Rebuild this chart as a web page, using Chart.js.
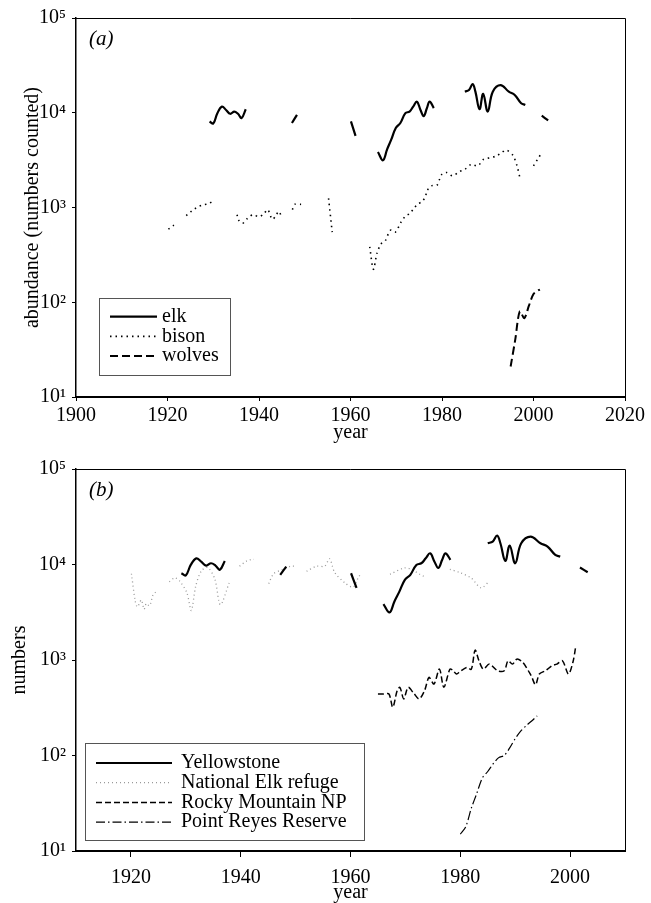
<!DOCTYPE html>
<html>
<head>
<meta charset="utf-8">
<script src="https://cdn.jsdelivr.net/npm/chart.js@4/dist/chart.umd.min.js"></script>
<style>
  html, body { margin: 0; padding: 0; background: #fff; }
  #wrap { position: relative; width: 651px; height: 903px; }
  .panel { position: absolute; left: 0; width: 651px; }
  #panelA { top: 0; height: 451px; }
  #panelB { top: 451px; height: 452px; }
</style>
</head>
<body>
<div id="wrap">
  <div class="panel" id="panelA"><canvas id="chartA"></canvas></div>
  <div class="panel" id="panelB"><canvas id="chartB"></canvas></div>
</div>
<script>
// ---- data (null = break in the record) ----
// Yellowstone elk (used in both panels)
const elkYears = [1929.2, 1930.0, 1930.9, 1931.9, 1932.8, 1933.7, 1934.6, 1935.4, 1936.2, 1937.1, 1940,
  1947.2, 1948.3, 1954,
  1960.1, 1961.1, 1963,
  1966.0, 1967.1, 1968.0, 1968.9, 1969.9, 1970.9, 1972.0, 1972.9, 1973.7, 1974.5, 1975.3, 1976.0, 1976.7, 1977.3, 1978.2, 1981,
  1985.0, 1985.9, 1986.7, 1987.3, 1988.2, 1989.0, 1990.0, 1991.1, 1992.8, 1994.6, 1995.9, 1997.3, 1998.2, 2000,
  2001.8, 2003.2];
const elkCounts = [8100, 7700, 9900, 11600, 10700, 9750, 10300, 9750, 8800, 10900, null,
  7800, 9500, null,
  8100, 5700, null,
  3850, 3150, 4100, 5200, 6900, 7800, 9900, 10300, 11600, 13100, 10700, 9200, 11200, 13100, 11200, null,
  16700, 17400, 20100, 16700, 10900, 15800, 10300, 16700, 19600, 16700, 15400, 12600, 12100, null,
  9300, 8300];

// Yellowstone bison
const bisonYears = [1920.2, 1921.4, 1922.5, 1924.1, 1925.3, 1926.4, 1927.6, 1928.8, 1930.0, 1932,
  1935.2, 1935.5, 1936.4, 1937.5, 1938.7, 1939.9, 1941.0, 1941.9, 1942.9, 1943.7, 1944.3, 1945.0, 1946,
  1947.3, 1947.8, 1949.2, 1952,
  1955.2, 1956.0, 1960,
  1964.2, 1965.0, 1965.8, 1966.7, 1967.6, 1968.7, 1969.8, 1971.0, 1972.0, 1972.9, 1973.8, 1974.7, 1975.6, 1976.4, 1976.7,
  1977.8, 1978.9, 1979.5, 1980.0, 1981.0, 1982.3, 1983.7, 1985.0, 1986.4, 1987.8, 1989.1, 1990.5, 1991.9, 1993.2, 1994.1,
  1995.5, 1996.4, 1997.1, 1998.5,
  2000.0, 2000.9, 2001.8];
const bisonCounts = [590, 650, null, 820, 920, 1000, 1060, 1090, 1170, null,
  840, 740, 680, 770, 840, 800, 850, 950, 750, 820, 910, 790, null,
  950, 1080, 1080, null,
  1250, 550, null,
  385, 223, 330, 414, 445, 575, 550, 695, 810, 860, 970, 1090, 1150, 1310, 1500,
  1700, 1720, 2000, 2245, 2340, 2160, 2380, 2530, 2850, 2750, 3230, 3350, 3500, 3850, 4030,
  3550, 2750, 1990, null,
  2750, 3230, 3780];

// Yellowstone wolves
const wolfYears = [1995.0, 1996.0, 1997.0, 1998.0, 1999.0, 2000.0, 2001.0, 2001.4];
const wolfCounts = [21, 40, 80, 68, 92, 122, 133, 136];

// National Elk refuge
const refugeYears = [1920.1, 1920.8, 1921.2, 1921.9, 1922.4, 1922.8, 1923.4, 1924.0, 1924.5, 1926,
  1927.0, 1928.0, 1928.9, 1930.2, 1931.0, 1931.8, 1932.8, 1934.0, 1935.3, 1936.3, 1937.9, 1939,
  1939.8, 1941.0, 1941.9, 1942.4, 1944,
  1945.1, 1946.0, 1947.5, 1949.1, 1949.8, 1951,
  1952.0, 1953.8, 1955.3, 1956.2, 1957.1, 1959.0, 1960.5, 1961.4, 1962.0, 1964,
  1967.2, 1969.8, 1971.1, 1972.6, 1973.4, 1975,
  1978.1, 1980.0, 1982.0, 1983.8, 1985.3];
const refugeCounts = [8000, 4100, 3600, 4250, 3400, 3900, 3700, 4750, 5150, null,
  6600, 7250, 6700, 5050, 3300, 5900, 8500, 9300, 7000, 3800, 6400, null,
  9600, 10800, 11300, 11300, null,
  6300, 8000, 8800, 9600, 9600, null,
  8500, 9600, 9600, 11500, 8300, 6400, 5800, 7250, 8200, null,
  7900, 9200, 8900, 7900, 7500, null,
  8900, 8200, 7200, 5700, 6700];

// Rocky Mountain NP
const rockyYears = [1965, 1966, 1967, 1967.7, 1968.5, 1969, 1969.7, 1970.5, 1971.5, 1972.5, 1973.5, 1974.3, 1975.2, 1976.2, 1977,
  1978.1, 1978.6, 1979.3, 1980, 1981.2, 1982, 1982.7, 1983.4, 1984.2, 1985.3, 1986.8, 1988, 1988.7, 1989.5, 1990.3, 1991.4,
  1992.9, 1993.7, 1994.4, 1995.5, 1996.7, 1997.6, 1998.6, 1999.7, 2000.5, 2001];
const rockyCounts = [440, 440, 440, 320, 477, 517, 391, 517, 450, 391, 480, 657, 560, 803, 517,
  800, 785, 713, 760, 835, 800, 1268, 982, 803, 906, 771, 771, 982, 906, 1021, 942,
  685, 551, 713, 771, 871, 906, 982, 713, 942, 1350];

// Point Reyes Reserve
const reyesYears = [1980, 1981, 1982, 1983, 1984, 1985, 1986, 1987, 1988, 1989, 1990, 1991, 1992, 1993, 1994];
const reyesCounts = [15, 18, 28, 40, 58, 68, 82, 95, 100, 120, 150, 180, 205, 230, 260];

const decades = [10, 100, 1000, 10000, 100000];
const supDigits = ['\u2070', '\u00b9', '\u00b2', '\u00b3', '\u2074', '\u2075'];
const yearTicksA = [1900, 1920, 1940, 1960, 1980, 2000, 2020];
const yearTicksB = [1920, 1940, 1960, 1980, 2000];

Chart.defaults.font.family = '"Liberation Serif", "Times New Roman", serif';
Chart.defaults.font.size = 20;
Chart.defaults.color = '#000';

function toPoints(years, counts) {
    return years.map((x, i) => ({ x: x, y: counts[i] }));
}

// frame, panel letter and the legend box
const decor = {
    id: 'decor',
    afterDraw(chart, args, opts) {
        const { ctx, chartArea } = chart;
        const { left, top, right, bottom } = chartArea;
        ctx.save();
        ctx.strokeStyle = '#000';
        ctx.lineWidth = 1;
        ctx.beginPath();
        ctx.moveTo(left, top + 0.5);
        ctx.lineTo(right + 0.5, top + 0.5);
        ctx.lineTo(right + 0.5, bottom);
        ctx.stroke();

        ctx.font = 'italic 21px "Liberation Serif", serif';
        ctx.fillStyle = '#000';
        ctx.textBaseline = 'middle';
        ctx.fillText(opts.label, left + 13, top + 21);

        const lg = opts.legend;
        const bx = left + lg.dx;
        const by = bottom - lg.dy - lg.h;
        ctx.fillStyle = '#fff';
        ctx.fillRect(bx, by, lg.w, lg.h);
        ctx.strokeStyle = '#555';
        ctx.lineWidth = 1;
        ctx.strokeRect(bx + 0.5, by + 0.5, lg.w, lg.h);
        ctx.font = '20px "Liberation Serif", serif';
        chart.data.datasets.forEach((ds, i) => {
            const yy = by + lg.first + i * lg.rowH;
            ctx.strokeStyle = ds.borderColor;
            ctx.lineWidth = ds.borderWidth;
            ctx.setLineDash(ds.borderDash || []);
            ctx.beginPath();
            ctx.moveTo(bx + lg.s0, yy);
            ctx.lineTo(bx + lg.s1, yy);
            ctx.stroke();
            ctx.setLineDash([]);
            ctx.fillStyle = '#000';
            ctx.fillText(ds.label, bx + lg.tx, yy);
        });
        ctx.restore();
    }
};

function makeOptions(cfg) {
    return {
        responsive: true,
        maintainAspectRatio: false,
        animation: false,
        devicePixelRatio: 1,
        events: [],
        layout: { padding: { top: cfg.padTop, right: 26, left: 0, bottom: 0 } },
        elements: { point: { radius: 0 } },
        plugins: {
            legend: { display: false },
            tooltip: { enabled: false },
            decor: { label: cfg.label, legend: cfg.legend }
        },
        scales: {
            x: {
                type: 'linear',
                min: cfg.xMin,
                max: cfg.xMax,
                afterBuildTicks: s => { s.ticks = cfg.xTicks.map(v => ({ value: v })); },
                afterFit: s => { s.height = cfg.xAxisH; },
                ticks: { callback: v => String(v), padding: cfg.xTickPad, maxRotation: 0, color: '#000' },
                grid: { drawOnChartArea: false, drawTicks: true, tickLength: cfg.xTickLen, color: '#000', lineWidth: 1 },
                border: { display: true, color: '#000', width: 2 },
                title: { display: true, text: 'year', color: '#000', padding: { top: 0, bottom: cfg.xTitlePad } }
            },
            y: {
                type: 'logarithmic',
                min: 10,
                max: 100000,
                afterBuildTicks: s => { s.ticks = decades.map(v => ({ value: v })); },
                afterFit: s => { s.width = 76; },
                ticks: {
                    callback: v => '10' + supDigits[Math.round(Math.log10(v))],
                    padding: 6,
                    color: '#000'
                },
                grid: { drawOnChartArea: false, drawTicks: true, tickLength: 4, color: '#000', lineWidth: 1 },
                border: { display: true, color: '#000', width: 1.5 },
                title: { display: true, text: cfg.yTitle, color: '#000', padding: { top: cfg.yTitlePad, bottom: 0 } }
            }
        }
    };
}

new Chart(document.getElementById('chartA'), {
    type: 'line',
    data: {
        datasets: [
            { label: 'elk', data: toPoints(elkYears, elkCounts), borderColor: '#000', borderWidth: 2.2, tension: 0.4 },
            { label: 'bison', data: toPoints(bisonYears, bisonCounts), borderColor: '#000', borderWidth: 1.6, borderDash: [1.5, 4], tension: 0.3 },
            { label: 'wolves', data: toPoints(wolfYears, wolfCounts), borderColor: '#000', borderWidth: 2, borderDash: [8, 4], tension: 0.3 }
        ]
    },
    options: makeOptions({
        padTop: 14, xMin: 1900, xMax: 2020, xTicks: yearTicksA, xAxisH: 54,
        xTickLen: 4, xTickPad: 3, xTitlePad: 6,
        yTitle: 'abundance (numbers counted)', yTitlePad: 21, label: '(a)',
        legend: { dx: 23, dy: 22, w: 131, h: 77, first: 18.7, rowH: 19.7, s0: 11, s1: 58, tx: 63 }
    }),
    plugins: [decor]
});

new Chart(document.getElementById('chartB'), {
    type: 'line',
    data: {
        datasets: [
            { label: 'Yellowstone', data: toPoints(elkYears, elkCounts), borderColor: '#000', borderWidth: 2.2, tension: 0.4 },
            { label: 'National Elk refuge', data: toPoints(refugeYears, refugeCounts), borderColor: '#999', borderWidth: 1.3, borderDash: [1, 3], tension: 0.3 },
            { label: 'Rocky Mountain NP', data: toPoints(rockyYears, rockyCounts), borderColor: '#000', borderWidth: 1.5, borderDash: [6, 3], tension: 0.3 },
            { label: 'Point Reyes Reserve', data: toPoints(reyesYears, reyesCounts), borderColor: '#000', borderWidth: 1.2, borderDash: [9, 3, 1.5, 3], tension: 0.3 }
        ]
    },
    options: makeOptions({
        padTop: 16, xMin: 1910, xMax: 2010, xTicks: yearTicksB, xAxisH: 52,
        xTickLen: 6, xTickPad: 9, xTitlePad: -2,
        yTitle: 'numbers', yTitlePad: 8, label: '(b)',
        legend: { dx: 9, dy: 11, w: 279, h: 97, first: 20, rowH: 19.7, s0: 11, s1: 87, tx: 96 }
    }),
    plugins: [decor]
});
</script>
</body>
</html>
